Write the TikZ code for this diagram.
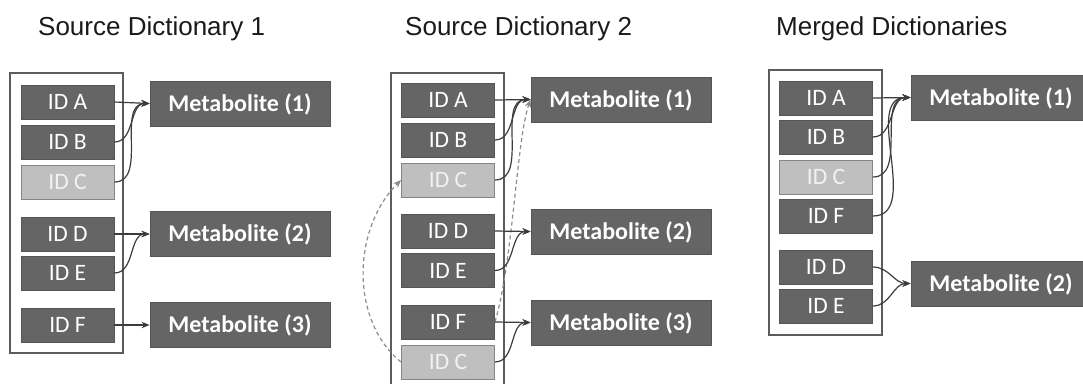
\documentclass[tikz,border=0pt]{standalone}
\usepackage{fontspec}
\setmainfont{Carlito}
\newfontfamily\titlefont{Liberation Sans}
\usetikzlibrary{arrows.meta}

\definecolor{boxfill}{HTML}{656565}
\definecolor{boxedge}{HTML}{555555}
\definecolor{lightfill}{HTML}{BFBFBF}
\definecolor{lightedge}{HTML}{858585}
\definecolor{lighttext}{HTML}{F2F2F2}
\definecolor{frame}{HTML}{5C5C5C}
\definecolor{linkcol}{HTML}{3C3C3C}
\definecolor{dashcol}{HTML}{8C8C8C}
\definecolor{titlecol}{HTML}{1A1A1A}

\tikzset{
  idbox/.style={draw=boxedge, fill=boxfill, line width=0.9pt,
    minimum width=93pt, minimum height=34pt, inner sep=0pt,
    text=white, font=\fontsize{23.5}{24}\selectfont,
    text height=15.1pt, text depth=0pt},
  idlight/.style={idbox, fill=lightfill, draw=lightedge, text=lighttext},
  metbox/.style={idbox, minimum width=180pt, minimum height=45pt,
    font=\bfseries\fontsize{24}{26}\selectfont, text height=15.5pt},
  dict/.style={draw=frame, line width=1.5pt},
  link/.style={draw=linkcol, line width=1.2pt,
    -{Stealth[length=8pt,width=6.5pt]}},
  alias/.style={draw=dashcol, line width=1.2pt, dash pattern=on 4pt off 3pt,
    -{Stealth[length=8pt,width=6.5pt]}},
  heading/.style={anchor=base west, inner sep=0pt, text=titlecol,
    font=\titlefont\fontsize{26}{28}\selectfont}
}

\begin{document}
\begin{tikzpicture}[x=1pt,y=-1pt]
\useasboundingbox (0,0) rectangle (1083,383);
\clip (0,0) rectangle (1083,383);

% headings
\node[heading] (t1) at (38,35) {Source Dictionary 1};
\node[heading] (t2) at (405,35) {Source Dictionary 2};
\node[heading] (t3) at (776,35) {Merged Dictionaries};

% ---------- source dictionary 1 ----------
\draw[dict] (10,73) rectangle (123,353);
\node[idbox]   (a1) at (67.5,102) {ID A};
\node[idbox]   (b1) at (67.5,142) {ID B};
\node[idlight] (c1) at (67.5,182) {ID C};
\node[idbox]   (d1) at (67.5,234) {ID D};
\node[idbox]   (e1) at (67.5,273) {ID E};
\node[idbox]   (f1) at (67.5,325) {ID F};
\node[metbox]  (m11) at (240,103.5) {Metabolite (1)};
\node[metbox]  (m12) at (240,234)   {Metabolite (2)};
\node[metbox]  (m13) at (240,325)   {Metabolite (3)};
\draw[link] (a1.east) -- (m11.west);
\draw[link] (b1.east) to[out=0,in=180] (m11.west);
\draw[link] (c1.east) to[out=0,in=180] (m11.west);
\draw[link] (d1.east) -- (m12.west);
\draw[link] (e1.east) to[out=0,in=180] (m12.west);
\draw[link] (f1.east) -- (m13.west);

% ---------- source dictionary 2 ----------
\draw[dict] (391,400) -- (391,73) -- (504,73) -- (504,400);
\node[idbox]   (a2) at (448,100) {ID A};
\node[idbox]   (b2) at (448,140) {ID B};
\node[idlight] (c2) at (448,180) {ID C};
\node[idbox]   (d2) at (448,231) {ID D};
\node[idbox]   (e2) at (448,270.5) {ID E};
\node[idbox]   (f2) at (448,322) {ID F};
\node[idlight] (g2) at (448,362) {ID C};
\node[metbox]  (m21) at (621,99.5)  {Metabolite (1)};
\node[metbox]  (m22) at (621,231.5) {Metabolite (2)};
\node[metbox]  (m23) at (621,322.5) {Metabolite (3)};
\draw[alias] (f2.east) .. controls +(18,-60) and +(-14,40) .. (m21.west);
\draw[alias] (g2.west) .. controls +(-50,-40) and +(-50,50) .. (c2.west);
\draw[link] (a2.east) -- (m21.west);
\draw[link] (b2.east) to[out=0,in=180] (m21.west);
\draw[link] (c2.east) to[out=0,in=180] (m21.west);
\draw[link] (d2.east) -- (m22.west);
\draw[link] (e2.east) to[out=0,in=180] (m22.west);
\draw[link] (f2.east) -- (m23.west);
\draw[link] (g2.east) to[out=0,in=180] (m23.west);

% ---------- merged dictionaries ----------
\draw[dict] (769,70) rectangle (882,335);
\node[idbox]   (a3) at (826,98)  {ID A};
\node[idbox]   (b3) at (826,137) {ID B};
\node[idlight] (c3) at (826,177) {ID C};
\node[idbox]   (f3) at (826,216) {ID F};
\node[idbox]   (d3) at (826,267) {ID D};
\node[idbox]   (e3) at (826,306) {ID E};
\node[metbox]  (m31) at (1001,97.5)  {Metabolite (1)};
\node[metbox]  (m32) at (1001,283.5) {Metabolite (2)};
\draw[link] (a3.east) -- (m31.west);
\draw[link] (b3.east) to[out=0,in=180] (m31.west);
\draw[link] (c3.east) to[out=0,in=180] (m31.west);
\draw[link] (f3.east) to[out=0,in=180] (m31.west);
\draw[link] (d3.east) to[out=0,in=180] (m32.west);
\draw[link] (e3.east) to[out=0,in=180] (m32.west);
\end{tikzpicture}
\end{document}
